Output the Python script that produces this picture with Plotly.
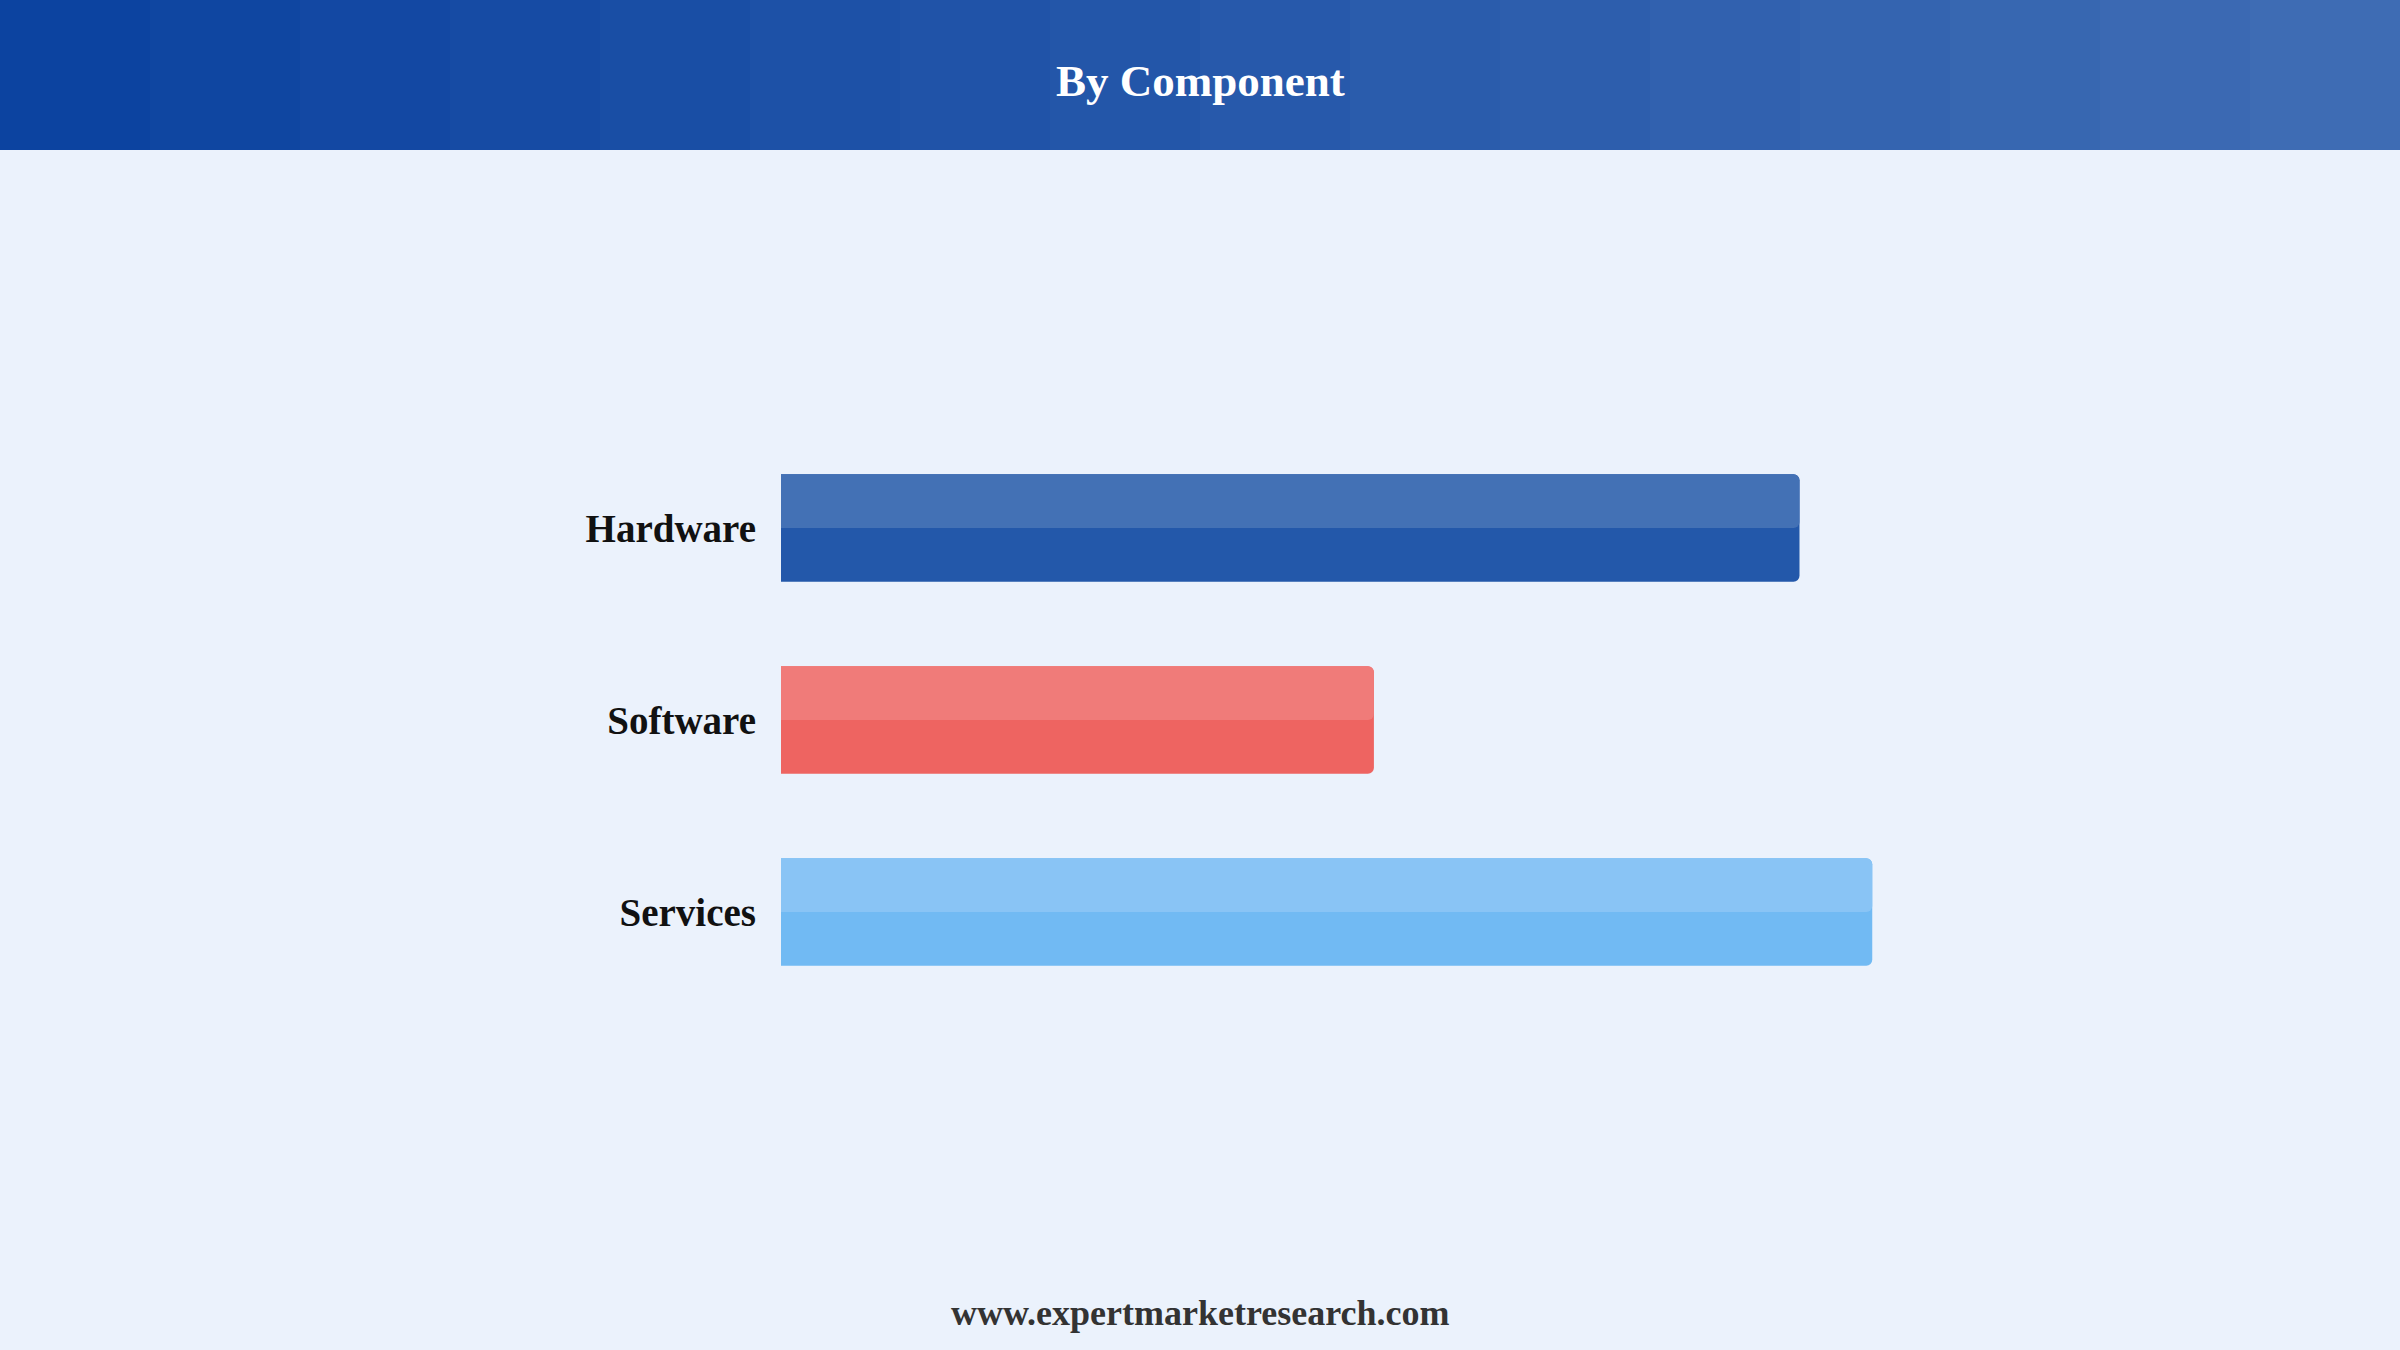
import plotly.graph_objects as go

# data
components = ["Hardware", "Software", "Services"]
shares = [28.0, 16.3, 30.0]

base_colors = ["#2358AA", "#EE6461", "#71BAF3"]
top_colors = ["#4371B5", "#F07B79", "#89C4F5"]

BG = "#EBF2FC"
SERIF = "Liberation Serif, Times New Roman, serif"

fig = go.Figure()

# full bar (darker lower tone)
fig.add_trace(go.Bar(
    y=components,
    x=shares,
    orientation="h",
    width=0.56,
    marker=dict(color=base_colors, line=dict(width=0), cornerradius=6),
    hoverinfo="skip",
))

# lighter upper half
fig.add_trace(go.Bar(
    y=components,
    x=shares,
    orientation="h",
    width=0.28,
    offset=-0.28,
    marker=dict(color=top_colors, line=dict(width=0), cornerradius=6),
    hoverinfo="skip",
))

# stepped gradient header band
steps = 16
c0 = (12, 67, 160)
c1 = (62, 108, 180)
header_shapes = []
for i in range(steps):
    t = i / (steps - 1)
    col = "rgb({},{},{})".format(*[round(a + (b - a) * t) for a, b in zip(c0, c1)])
    header_shapes.append(dict(
        type="rect", xref="paper", yref="paper",
        x0=i / steps, x1=(i + 1) / steps + 0.001,
        y0=1 - 150 / 1350, y1=1,
        fillcolor=col, line=dict(width=0), layer="below",
    ))

fig.update_layout(
    width=2400,
    height=1350,
    autosize=False,
    margin=dict(l=0, r=0, t=0, b=0),
    paper_bgcolor=BG,
    plot_bgcolor=BG,
    barmode="overlay",
    showlegend=False,
    shapes=header_shapes,
    xaxis=dict(
        domain=[781 / 2400, 2236 / 2400],
        range=[0, 40],
        visible=False,
        fixedrange=True,
    ),
    yaxis=dict(
        domain=[150 / 1350, 1 - 240 / 1350],
        range=[3.5, -1.5],
        showgrid=False,
        zeroline=False,
        showline=False,
        ticks="",
        ticklabelstandoff=24,
        tickfont=dict(family=SERIF, size=39, color="#111111", weight="bold"),
        fixedrange=True,
    ),
    annotations=[
        dict(
            text="<b>By Component</b>",
            xref="paper", yref="paper",
            x=0.5, y=1 - 81 / 1350,
            xanchor="center", yanchor="middle",
            showarrow=False,
            font=dict(family=SERIF, size=45, color="white"),
        ),
        dict(
            text="<b>www.expertmarketresearch.com</b>",
            xref="paper", yref="paper",
            x=0.5, y=1 - 1313 / 1350,
            xanchor="center", yanchor="middle",
            showarrow=False,
            font=dict(family=SERIF, size=36, color="#333333"),
        ),
    ],
)

fig.write_html(
    "out.html",
    config=dict(displayModeBar=False),
    post_script="document.body.style.margin='0';document.body.style.overflow='hidden';",
)
